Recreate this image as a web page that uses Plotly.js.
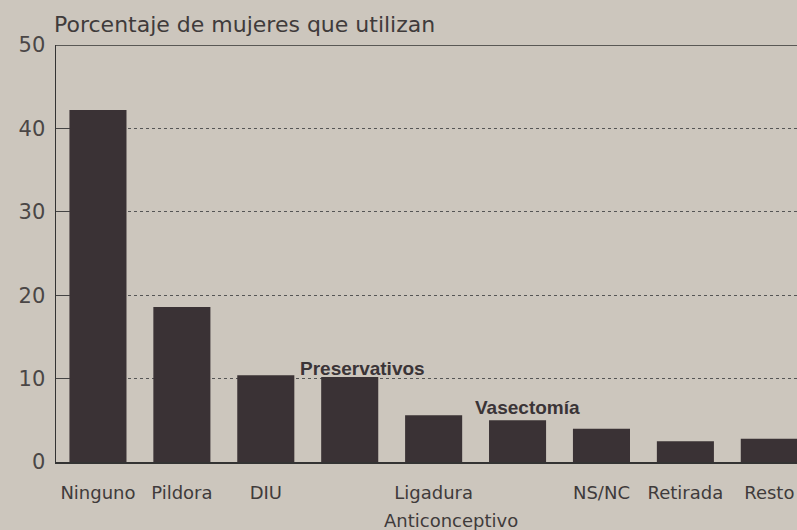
<!DOCTYPE html>
<html>
<head>
<meta charset="utf-8">
<script src="https://cdn.plot.ly/plotly-3.0.1.min.js"></script>
<style>
  html, body { margin: 0; padding: 0; background: #ccc6bd; }
  #chart { width: 797px; height: 530px; }
</style>
</head>
<body>
<div id="chart"></div>
<script>
// Data
const categories = ['Ninguno', 'Pildora', 'DIU', 'Preservativos', 'Ligadura', 'Vasectomía', 'NS/NC', 'Retirada', 'Resto'];
const values = [42.2, 18.6, 10.4, 10.2, 5.6, 5.0, 4.0, 2.5, 2.8];
const tickLabels = ['Ninguno', 'Pildora', 'DIU', '', 'Ligadura', '', 'NS/NC', 'Retirada', 'Resto'];
const calloutCategories = ['Preservativos', 'Vasectomía'];
const calloutValues = [10.2, 5.0];
const yTickVals = [0, 10, 20, 30, 40, 50];
const yMax = 50;

const textColor = '#3f3b3b';
const barColor = '#3a3235';

const trace = {
  type: 'bar',
  x: categories,
  y: values,
  width: 0.68,
  marker: { color: barColor, line: { width: 0 } },
  hoverinfo: 'x+y'
};

const annotations = calloutCategories.map((c, i) => ({
  x: c, y: calloutValues[i], xref: 'x', yref: 'y',
  text: '<b>' + c + '</b>',
  showarrow: false,
  xanchor: 'center', yanchor: 'bottom',
  xshift: [13, 10][i], yshift: [-4, 0][i],
  font: { family: 'Liberation Sans, Arial, sans-serif', size: 19, color: '#3a3437' }
}));

annotations.push({
  xref: 'paper', yref: 'paper', x: 0, y: 1,
  xanchor: 'left', yanchor: 'bottom', yshift: 6, xshift: -4,
  text: 'Porcentaje de mujeres que utilizan',
  showarrow: false,
  font: { family: 'DejaVu Sans, sans-serif', size: 22, color: textColor }
});
annotations.push({
  xref: 'paper', yref: 'paper', x: 0.533, y: 0,
  xanchor: 'center', yanchor: 'top', yshift: -46,
  text: 'Anticonceptivo',
  showarrow: false,
  font: { family: 'DejaVu Sans, sans-serif', size: 18, color: textColor }
});

const layout = {
  width: 797, height: 530,
  margin: { l: 56, r: 0, t: 45, b: 68, pad: 0 },
  paper_bgcolor: '#ccc6bd',
  plot_bgcolor: '#ccc6bd',
  showlegend: false,
  font: { family: 'DejaVu Sans, sans-serif', color: textColor },
  xaxis: {
    type: 'category',
    range: [-0.5, 8.33],
    tickvals: categories,
    ticktext: tickLabels,
    ticks: '',
    showgrid: false,
    showline: true, linecolor: '#333', linewidth: 1.5,
    zeroline: false,
    ticklabelstandoff: 14,
    tickfont: { family: 'DejaVu Sans, sans-serif', size: 18, color: textColor },
    fixedrange: true
  },
  yaxis: {
    range: [0, yMax],
    tickvals: yTickVals,
    ticks: 'inside', ticklen: 13, tickwidth: 1.2, tickcolor: '#444',
    showline: true, linecolor: '#333', linewidth: 1.5,
    showgrid: true, gridcolor: '#555', gridwidth: 1, griddash: 'dot',
    zeroline: false,
    ticklabelstandoff: 5,
    tickfont: { family: 'DejaVu Sans, sans-serif', size: 21, color: '#4a4646' },
    fixedrange: true
  },
  shapes: [{
    type: 'line', xref: 'paper', yref: 'y', x0: 0, x1: 1, y0: yMax, y1: yMax,
    line: { color: '#333', width: 1.5 }, layer: 'above'
  }],
  annotations: annotations
};

Plotly.newPlot('chart', [trace], layout, { displayModeBar: false, staticPlot: true });
</script>
</body>
</html>
